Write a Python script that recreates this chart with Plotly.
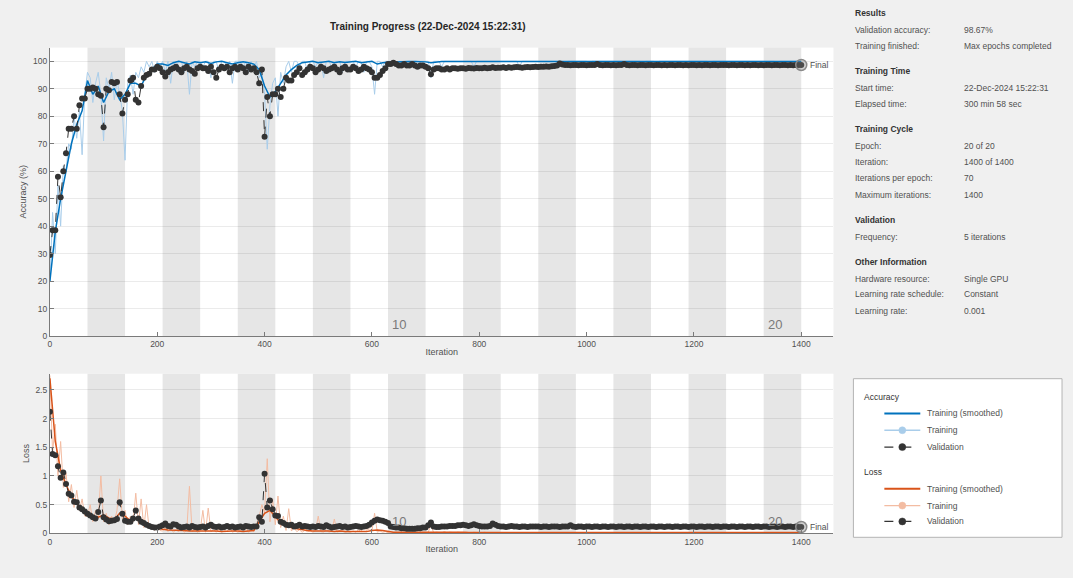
import plotly.graph_objects as go

W, H = 1073, 578


def px(x):
    return x / W


def py(y):
    return 1 - y / H


FONT = "Liberation Sans, Arial, sans-serif"

ITER_PER_EPOCH = 70
N_EPOCHS = 20
MAX_ITER = 1400

# iteration positions
val_iter = list(range(0, MAX_ITER + 1, 5))
raw_iter = list(range(0, MAX_ITER + 1, 5))
smooth_iter = list(range(0, MAX_ITER + 1, 10))

# ---------------- Accuracy (%) ----------------
val_acc = [
    29.5, 38.5, 38.5, 58, 50.5, 60, 66.5, 75.5, 75.5, 80, 75.5, 84, 86.5, 86.5,
    90, 90, 90.5, 90, 88, 87.5, 76, 90, 89.5, 92.5, 92, 92.5, 88, 81,
    86, 88, 93, 94, 86, 85, 91, 94, 95, 95.5, 97, 97, 98, 97.5,
    96, 94.5, 96, 97, 97.5, 98, 97, 96, 97.5, 98, 97, 96.5, 95.5, 97.5,
    98, 97.5, 97.5, 96.5, 98, 96, 94, 97, 98, 97.5, 98, 96, 97.5, 98,
    97, 98, 97.5, 96, 98, 97, 97.5, 96, 92, 97, 72.5, 87, 80, 88,
    88, 90, 87, 90, 94, 93, 93, 95, 96, 97.5, 95, 96, 97, 98,
    97.5, 96, 97, 98, 97.5, 96.5, 97, 97.5, 98, 97, 96, 97.5, 98, 97,
    97, 98, 97.5, 96.5, 97, 98, 97.5, 97, 96, 94, 94, 95, 96.5, 97.5,
    99, 99, 99.5, 99, 98.5, 98.5, 99, 98.5, 98.5, 99, 98.5, 98, 98.5, 98.5,
    98, 97.5, 95.3, 97, 97.5, 97.5, 97, 97, 97.5, 97, 97.5, 97.5, 97.3, 97.5,
    97.5, 97.3, 97.6, 97.5, 97.4, 97.6, 97.5, 97.5, 97.7, 97.5, 97.6, 97.8, 97.6, 97.7,
    97.7, 97.8, 97.6, 97.8, 97.7, 97.8, 97.9, 97.8, 97.7, 97.8, 97.9, 97.8, 97.9, 98,
    97.9, 98, 98, 98.1, 98, 98.2, 98.3, 98.5, 99.2, 98.8, 98.7, 98.7, 98.6, 98.7,
    98.7, 98.6, 98.7, 98.7, 98.6, 98.7, 98.7, 98.7, 99.0, 98.7, 98.6, 98.7, 98.7, 98.6,
    98.7, 98.6, 98.7, 98.7, 99.0, 98.7, 98.6, 98.7, 98.7, 98.6, 98.7, 98.7, 98.6, 98.7,
    98.7, 98.6, 98.7, 98.7, 98.6, 98.7, 98.6, 98.7, 98.7, 98.6, 98.7, 98.7, 98.6, 98.7,
    98.6, 98.7, 98.7, 98.6, 98.7, 98.6, 98.7, 98.7, 98.6, 98.7, 98.7, 98.6, 98.7, 98.7,
    98.7, 98.6, 98.7, 98.7, 98.6, 98.7, 98.7, 98.6, 98.7, 98.6, 98.7, 98.7, 98.6, 98.7,
    98.6, 98.7, 98.7, 98.6, 98.7, 98.7, 98.6, 98.7, 98.7, 98.6, 98.7, 98.6, 98.7, 98.7,
    98.67,
]

raw_acc = [
    20, 45, 30, 55, 40, 62, 60, 70, 68, 80, 72, 82, 66, 88,
    96, 94, 85, 92, 96, 88, 71, 94, 90, 96, 86, 93, 88, 82,
    64, 92, 95, 88, 96, 94, 98, 96, 100, 98, 100, 96, 100, 98,
    100, 96, 100, 92, 100, 98, 100, 100, 96, 100, 88, 100, 98, 100,
    100, 98, 100, 100, 94, 100, 100, 96, 100, 100, 98, 100, 92, 100,
    100, 100, 98, 100, 96, 100, 98, 100, 94, 96, 88, 68, 84, 92,
    94, 80, 96, 92, 98, 100, 96, 100, 100, 98, 100, 100, 96, 100,
    100, 98, 100, 100, 94, 100, 100, 98, 100, 100, 100, 96, 100, 100,
    100, 100, 98, 100, 100, 96, 100, 100, 98, 88, 100, 100, 98, 100,
    100, 100, 100, 98, 100, 100, 100, 100, 100, 98, 100, 100, 100, 100,
    100, 100, 94, 100, 100, 100, 98, 100, 100, 100, 100, 100, 100, 100,
    100, 100, 100, 100, 98, 100, 100, 100, 100, 100, 100, 100, 100, 100,
    100, 100, 100, 100, 100, 100, 100, 98, 100, 100, 100, 100, 100, 100,
    100, 100, 100, 100, 100, 100, 100, 100, 100, 100, 98, 100, 100, 100,
    100, 100, 100, 100, 100, 98, 100, 100, 100, 100, 100, 100, 100, 100,
    100, 100, 100, 100, 100, 100, 100, 100, 100, 100, 100, 98, 100, 100,
    100, 100, 98, 100, 100, 100, 100, 100, 100, 100, 100, 100, 100, 100,
    100, 100, 100, 100, 100, 100, 100, 100, 98, 100, 100, 100, 100, 100,
    100, 100, 100, 100, 100, 100, 100, 100, 100, 100, 100, 100, 100, 100,
    100, 100, 100, 100, 100, 98, 100, 100, 100, 100, 100, 100, 100, 100,
    100,
]

smooth_acc = [
    20, 38, 50, 60, 70, 77, 82,
    93, 88, 91, 85, 89, 90, 86,
    88, 92, 92, 91, 95, 97, 99,
    99, 98.5, 99.5, 100, 99.5, 99, 99.8,
    99.5, 99.8, 99.2, 99.8, 100, 99.5, 99,
    99.5, 99.8, 99.5, 99, 97, 91, 87,
    89, 92, 95, 97, 98.5, 99.5, 99.8,
    100, 99.5, 99.8, 100, 99.5, 99.8, 99.6,
    99.8, 100, 99.5, 99.8, 100, 99, 99.5,
    99.7, 99.8, 99.9, 99.9, 99.9, 99.9, 99.9,
    99.8, 99.5, 99.8, 99.9, 99.9, 99.9, 99.9,
    99.9, 99.9, 99.9, 99.8, 99.9, 99.9, 99.9,
    99.9, 99.9, 99.9, 99.9, 99.9, 99.9, 99.9,
    99.9, 99.9, 99.9, 99.9, 99.9, 99.9, 99.9,
    99.9, 99.9, 99.9, 99.9, 99.9, 99.9, 99.9,
    99.9, 99.9, 99.9, 99.9, 99.9, 99.9, 99.9,
    99.9, 99.9, 99.9, 99.9, 99.9, 99.9, 99.9,
    99.9, 99.9, 99.9, 99.9, 99.9, 99.9, 99.9,
    99.9, 99.9, 99.9, 99.9, 99.9, 99.9, 99.9,
    99.9, 99.9, 99.9, 99.9, 99.9, 99.9, 99.9,
    99.9,
]

# ---------------- Loss ----------------
val_loss = [
    2.12, 1.38, 1.36, 1.17, 0.97, 1.06, 0.86, 0.69, 0.66, 0.55, 0.54, 0.45, 0.42, 0.38,
    0.34, 0.31, 0.28, 0.26, 0.37, 0.57, 0.28, 0.24, 0.21, 0.22, 0.23, 0.25, 0.54, 0.34,
    0.22, 0.2, 0.2, 0.26, 0.4, 0.26, 0.2, 0.18, 0.15, 0.13, 0.11, 0.1, 0.1, 0.12,
    0.14, 0.17, 0.13, 0.12, 0.16, 0.15, 0.12, 0.1, 0.11, 0.12, 0.1, 0.13, 0.11, 0.1,
    0.11, 0.12, 0.1, 0.13, 0.15, 0.12, 0.11, 0.12, 0.1, 0.11, 0.13, 0.11, 0.12, 0.1,
    0.11, 0.12, 0.1, 0.13, 0.12, 0.11, 0.12, 0.12, 0.28, 0.2, 1.04, 0.45, 0.57, 0.42,
    0.31, 0.3, 0.2, 0.18, 0.15, 0.14, 0.15, 0.12, 0.13, 0.15, 0.12, 0.13, 0.12, 0.11,
    0.12, 0.11, 0.13, 0.12, 0.11, 0.14, 0.12, 0.1, 0.11, 0.12, 0.13, 0.11, 0.12, 0.1,
    0.11, 0.12, 0.13, 0.12, 0.11, 0.12, 0.13, 0.15, 0.19, 0.22, 0.24, 0.23, 0.22, 0.2,
    0.18, 0.12, 0.11, 0.1, 0.1, 0.09, 0.09, 0.08, 0.08, 0.08, 0.08, 0.09, 0.09, 0.1,
    0.1, 0.14, 0.19, 0.12, 0.11, 0.11, 0.12, 0.12, 0.12, 0.13, 0.13, 0.13, 0.14, 0.14,
    0.15, 0.14, 0.13, 0.14, 0.16, 0.14, 0.13, 0.12, 0.12, 0.12, 0.13, 0.17, 0.15, 0.13,
    0.12, 0.12, 0.11, 0.12, 0.13, 0.12, 0.12, 0.11, 0.12, 0.12, 0.11, 0.12, 0.12, 0.12,
    0.12, 0.11, 0.12, 0.12, 0.11, 0.12, 0.12, 0.12, 0.11, 0.12, 0.12, 0.12, 0.14, 0.12,
    0.11, 0.12, 0.12, 0.11, 0.12, 0.12, 0.11, 0.12, 0.12, 0.11, 0.12, 0.12, 0.11, 0.12,
    0.12, 0.11, 0.12, 0.12, 0.11, 0.12, 0.12, 0.11, 0.12, 0.12, 0.11, 0.12, 0.12, 0.11,
    0.12, 0.12, 0.11, 0.12, 0.12, 0.11, 0.12, 0.12, 0.11, 0.12, 0.12, 0.11, 0.12, 0.12,
    0.11, 0.12, 0.12, 0.11, 0.12, 0.12, 0.11, 0.12, 0.12, 0.11, 0.12, 0.12, 0.11, 0.12,
    0.12, 0.11, 0.12, 0.12, 0.11, 0.12, 0.12, 0.11, 0.12, 0.12, 0.11, 0.12, 0.12, 0.11,
    0.12, 0.12, 0.11, 0.12, 0.12, 0.11, 0.12, 0.12, 0.11, 0.12, 0.12, 0.11, 0.12, 0.11,
    0.11,
]

raw_loss = [
    2.75, 1.4, 1.9, 1.0, 1.6, 0.8, 1.05, 0.55, 0.85, 0.45, 0.75, 0.4, 0.6, 0.3,
    0.3, 0.5, 0.2, 0.4, 0.25, 1.0, 0.2, 0.35, 0.15, 0.3, 0.2, 0.4, 0.95, 0.25,
    0.4, 0.15, 0.3, 0.2, 0.7, 0.15, 0.6, 0.1, 0.5, 0.08, 0.15, 0.05, 0.12, 0.05,
    0.04, 0.1, 0.03, 0.08, 0.02, 0.06, 0.03, 0.1, 0.02, 0.05, 0.82, 0.03, 0.06, 0.02,
    0.05, 0.4, 0.02, 0.44, 0.03, 0.06, 0.02, 0.08, 0.02, 0.05, 0.03, 0.1, 0.02, 0.04,
    0.02, 0.05, 0.03, 0.1, 0.02, 0.06, 0.03, 0.15, 0.3, 0.5, 0.35, 1.3, 0.2, 0.6,
    0.15, 0.65, 0.1, 0.3, 0.05, 0.43, 0.04, 0.1, 0.03, 0.06, 0.02, 0.05, 0.03, 0.04,
    0.02, 0.05, 0.3, 0.03, 0.02, 0.06, 0.02, 0.04, 0.25, 0.02, 0.03, 0.05, 0.02, 0.03,
    0.02, 0.04, 0.02, 0.06, 0.03, 0.15, 0.05, 0.08, 0.04, 0.35, 0.02, 0.04, 0.02, 0.03,
    0.01, 0.03, 0.01, 0.02, 0.01, 0.02, 0.01, 0.03, 0.01, 0.02, 0.01, 0.01, 0.02, 0.01,
    0.01, 0.02, 0.15, 0.01, 0.02, 0.01, 0.01, 0.03, 0.01, 0.02, 0.01, 0.01, 0.02, 0.01,
    0.01, 0.02, 0.01, 0.01, 0.02, 0.01, 0.01, 0.01, 0.02, 0.01, 0.01, 0.01, 0.02, 0.01,
    0.01, 0.01, 0.02, 0.01, 0.01, 0.01, 0.02, 0.01, 0.01, 0.01, 0.01, 0.02, 0.01, 0.01,
    0.01, 0.02, 0.01, 0.01, 0.01, 0.02, 0.01, 0.01, 0.02, 0.01, 0.01, 0.01, 0.01, 0.02,
    0.01, 0.01, 0.01, 0.02, 0.01, 0.01, 0.01, 0.01, 0.02, 0.01, 0.01, 0.02, 0.01, 0.01,
    0.01, 0.02, 0.01, 0.01, 0.01, 0.01, 0.02, 0.01, 0.01, 0.01, 0.02, 0.01, 0.01, 0.01,
    0.01, 0.01, 0.02, 0.01, 0.01, 0.02, 0.01, 0.01, 0.01, 0.01, 0.01, 0.02, 0.01, 0.01,
    0.02, 0.01, 0.01, 0.01, 0.02, 0.01, 0.01, 0.01, 0.01, 0.02, 0.01, 0.01, 0.01, 0.01,
    0.01, 0.01, 0.01, 0.02, 0.01, 0.01, 0.01, 0.02, 0.01, 0.01, 0.01, 0.01, 0.02, 0.01,
    0.01, 0.02, 0.01, 0.01, 0.01, 0.01, 0.01, 0.02, 0.01, 0.01, 0.02, 0.01, 0.01, 0.01,
    0.01,
]

smooth_loss = [
    2.7, 1.6, 1.1, 0.85, 0.65, 0.52, 0.42,
    0.35, 0.3, 0.28, 0.32, 0.27, 0.24, 0.35,
    0.3, 0.22, 0.26, 0.2, 0.15, 0.12, 0.09,
    0.07, 0.06, 0.06, 0.05, 0.05, 0.04, 0.04,
    0.04, 0.04, 0.05, 0.04, 0.03, 0.04, 0.04,
    0.04, 0.03, 0.04, 0.05, 0.2, 0.35, 0.4,
    0.28, 0.18, 0.15, 0.1, 0.08, 0.06, 0.05,
    0.04, 0.04, 0.05, 0.04, 0.03, 0.04, 0.03,
    0.03, 0.03, 0.04, 0.03, 0.05, 0.06, 0.05,
    0.03, 0.02, 0.02, 0.02, 0.02, 0.02, 0.02,
    0.02, 0.03, 0.02, 0.02, 0.02, 0.02, 0.02,
    0.02, 0.015, 0.015, 0.015, 0.015, 0.015, 0.015,
    0.015, 0.015, 0.015, 0.015, 0.015, 0.015, 0.015,
    0.015, 0.015, 0.015, 0.015, 0.015, 0.015, 0.015,
    0.015, 0.015, 0.015, 0.015, 0.015, 0.015, 0.015,
    0.015, 0.015, 0.015, 0.015, 0.015, 0.015, 0.015,
    0.015, 0.015, 0.015, 0.015, 0.015, 0.015, 0.015,
    0.015, 0.015, 0.015, 0.015, 0.015, 0.015, 0.015,
    0.015, 0.015, 0.015, 0.015, 0.015, 0.015, 0.015,
    0.015, 0.015, 0.015, 0.015, 0.015, 0.015, 0.015,
    0.015,
]

assert len(val_acc) == len(val_iter), len(val_acc)
assert len(raw_acc) == len(raw_iter), len(raw_acc)
assert len(smooth_acc) == len(smooth_iter), len(smooth_acc)
assert len(val_loss) == len(val_iter), len(val_loss)
assert len(raw_loss) == len(raw_iter), len(raw_loss)
assert len(smooth_loss) == len(smooth_iter), len(smooth_loss)

x_ticks = [0, 200, 400, 600, 800, 1000, 1200, 1400]
acc_ticks = [0, 10, 20, 30, 40, 50, 60, 70, 80, 90, 100]
loss_ticks = [0, 0.5, 1, 1.5, 2, 2.5]
loss_ticktext = ["0", "0.5", "1", "1.5", "2", "2.5"]

info_rows = [
    ("Results", None, 13, True),
    ("Validation accuracy:", "98.67%", 30, False),
    ("Training finished:", "Max epochs completed", 46, False),
    ("Training Time", None, 72, True),
    ("Start time:", "22-Dec-2024 15:22:31", 89, False),
    ("Elapsed time:", "300 min 58 sec", 105, False),
    ("Training Cycle", None, 130, True),
    ("Epoch:", "20 of 20", 147, False),
    ("Iteration:", "1400 of 1400", 163, False),
    ("Iterations per epoch:", "70", 180, False),
    ("Maximum iterations:", "1400", 197, False),
    ("Validation", None, 222, True),
    ("Frequency:", "5 iterations", 239, False),
    ("Other Information", None, 264, True),
    ("Hardware resource:", "Single GPU", 281, False),
    ("Learning rate schedule:", "Constant", 297, False),
    ("Learning rate:", "0.001", 314, False),
]

# colours
C_ACC = "#0072BD"
C_ACC_RAW = "#A9CDEA"
C_LOSS = "#D95319"
C_LOSS_RAW = "#F3BCA2"
C_VAL = "#333333"
TXT = "#505050"

fig = go.Figure()

# ---- accuracy plot ----
fig.add_trace(go.Scatter(x=raw_iter, y=raw_acc, mode="lines",
                         line=dict(color=C_ACC_RAW, width=1), showlegend=False,
                         xaxis="x", yaxis="y"))
fig.add_trace(go.Scatter(x=smooth_iter, y=smooth_acc, mode="lines",
                         line=dict(color=C_ACC, width=1.5), showlegend=False,
                         xaxis="x", yaxis="y"))
fig.add_trace(go.Scatter(x=val_iter, y=val_acc, mode="lines+markers",
                         line=dict(color=C_VAL, width=1, dash="dash"),
                         marker=dict(color=C_VAL, size=6), showlegend=False,
                         xaxis="x", yaxis="y"))
fig.add_trace(go.Scatter(x=[val_iter[-1]], y=[val_acc[-1]], mode="markers",
                         marker=dict(color="rgba(120,120,120,0.35)", size=11,
                                     line=dict(color="#8a8a8a", width=1.5)),
                         showlegend=False, xaxis="x", yaxis="y"))

# ---- loss plot ----
fig.add_trace(go.Scatter(x=raw_iter, y=raw_loss, mode="lines",
                         line=dict(color=C_LOSS_RAW, width=1), showlegend=False,
                         xaxis="x2", yaxis="y2"))
fig.add_trace(go.Scatter(x=smooth_iter, y=smooth_loss, mode="lines",
                         line=dict(color=C_LOSS, width=1.5), showlegend=False,
                         xaxis="x2", yaxis="y2"))
fig.add_trace(go.Scatter(x=val_iter, y=val_loss, mode="lines+markers",
                         line=dict(color=C_VAL, width=1, dash="dash"),
                         marker=dict(color=C_VAL, size=6), showlegend=False,
                         xaxis="x2", yaxis="y2"))
fig.add_trace(go.Scatter(x=[val_iter[-1]], y=[val_loss[-1]], mode="markers",
                         marker=dict(color="rgba(120,120,120,0.35)", size=11,
                                     line=dict(color="#8a8a8a", width=1.5)),
                         showlegend=False, xaxis="x2", yaxis="y2"))

# ---- epoch bands ----
shapes = []
for ep in range(2, N_EPOCHS + 1, 2):
    x0 = (ep - 1) * ITER_PER_EPOCH
    x1 = ep * ITER_PER_EPOCH
    for xr, yr in (("x", "y domain"), ("x2", "y2 domain")):
        shapes.append(dict(type="rect", xref=xr, yref=yr, x0=x0, x1=x1, y0=0, y1=1,
                           fillcolor="#E6E6E6", line=dict(width=0), layer="below"))

# ---- legend panel (drawn as a key box) ----
shapes.append(dict(type="rect", xref="paper", yref="paper",
                   x0=px(853), x1=px(1062), y0=py(542), y1=py(382),
                   fillcolor="white", line=dict(color="#B4B4B4", width=1), layer="below"))

legend_rows = [
    ("Accuracy", None, None, None, 400),
    ("Training (smoothed)", C_ACC, "solid", None, 417),
    ("Training", C_ACC_RAW, "solid", C_ACC_RAW, 434),
    ("Validation", C_VAL, "dash", C_VAL, 451),
    ("Loss", None, None, None, 476),
    ("Training (smoothed)", C_LOSS, "solid", None, 493),
    ("Training", C_LOSS_RAW, "solid", C_LOSS_RAW, 510),
    ("Validation", C_VAL, "dash", C_VAL, 526),
]

annotations = []
for text, col, dash, mcol, ypix in legend_rows:
    if col is None:
        annotations.append(dict(text=text, x=px(862), y=py(ypix), xref="paper", yref="paper",
                                xanchor="left", yanchor="middle", showarrow=False,
                                font=dict(size=8.5, color="#333333", family=FONT)))
        continue
    shapes.append(dict(type="line", xref="paper", yref="paper",
                       x0=px(884), x1=px(920), y0=py(ypix), y1=py(ypix),
                       line=dict(color=col, width=2 if dash == "solid" and mcol is None else 1.3,
                                 dash=dash), layer="above"))
    if mcol:
        shapes.append(dict(type="circle", xref="paper", yref="paper",
                           xsizemode="pixel", ysizemode="pixel",
                           xanchor=px(902), yanchor=py(ypix),
                           x0=-3.5, x1=3.5, y0=-3.5, y1=3.5,
                           fillcolor=mcol, line=dict(color=mcol, width=0.5), layer="above"))
    annotations.append(dict(text=text, x=px(925), y=py(ypix), xref="paper", yref="paper",
                            xanchor="left", yanchor="middle", showarrow=False,
                            font=dict(size=8.5, color=TXT, family=FONT)))

# title
annotations.append(dict(text="<b>Training Progress (22-Dec-2024 15:22:31)</b>",
                        x=px(427), y=py(19), xref="paper", yref="paper",
                        showarrow=False, font=dict(size=10, color="#262626", family=FONT)))
# epoch labels
for ep in (10, 20):
    for xr, yr in (("x", "y domain"), ("x2", "y2 domain")):
        annotations.append(dict(text=str(ep), x=(ep - 1) * ITER_PER_EPOCH, y=0,
                                xref=xr, yref=yr, xanchor="left", yanchor="bottom",
                                xshift=2, yshift=2, showarrow=False,
                                font=dict(size=13, color="#7a7a7a", family=FONT)))
# Final labels
annotations.append(dict(text="Final", x=val_iter[-1], y=val_acc[-1], xref="x", yref="y",
                        xanchor="left", xshift=7, showarrow=False,
                        font=dict(size=8.5, color=TXT, family=FONT)))
annotations.append(dict(text="Final", x=val_iter[-1], y=val_loss[-1], xref="x2", yref="y2",
                        xanchor="left", xshift=7, showarrow=False,
                        font=dict(size=8.5, color=TXT, family=FONT)))
# info panel
for label, value, ypix, header in info_rows:
    if header:
        annotations.append(dict(text=f"<b>{label}</b>", x=px(853), y=py(ypix),
                                xref="paper", yref="paper", xanchor="left", yanchor="middle",
                                showarrow=False, font=dict(size=8.5, color="#333333", family=FONT)))
    else:
        annotations.append(dict(text=label, x=px(853), y=py(ypix),
                                xref="paper", yref="paper", xanchor="left", yanchor="middle",
                                showarrow=False, font=dict(size=8.5, color=TXT, family=FONT)))
        annotations.append(dict(text=value, x=px(962), y=py(ypix),
                                xref="paper", yref="paper", xanchor="left", yanchor="middle",
                                showarrow=False, font=dict(size=8.5, color=TXT, family=FONT)))

axis_common = dict(showline=True, linecolor="#7a7a7a", linewidth=1, ticks="inside",
                   ticklen=4, tickcolor="#7a7a7a", zeroline=False,
                   tickfont=dict(size=8.5, color=TXT, family=FONT))

XD = [px(48), px(833)]
fig.update_layout(
    width=W, height=H,
    margin=dict(l=0, r=0, t=0, b=0),
    paper_bgcolor="#F0F0F0", plot_bgcolor="white",
    font=dict(family=FONT, size=9, color=TXT),
    xaxis=dict(domain=XD, anchor="y", range=[0, 1460], tickvals=x_ticks,
               showgrid=False,
               title=dict(text="Iteration", standoff=0, font=dict(size=9, color=TXT)),
               **axis_common),
    yaxis=dict(domain=[py(339), py(48)], anchor="x", range=[0, 105], tickvals=acc_ticks,
               showgrid=True, gridcolor="rgba(0,0,0,0.08)", gridwidth=1,
               title=dict(text="Accuracy (%)", standoff=4, font=dict(size=9, color=TXT)),
               **axis_common),
    xaxis2=dict(domain=XD, anchor="y2", range=[0, 1460], tickvals=x_ticks,
                showgrid=False,
                title=dict(text="Iteration", standoff=0, font=dict(size=9, color=TXT)),
                **axis_common),
    yaxis2=dict(domain=[py(538), py(377)], anchor="x2", range=[0, 2.78], tickvals=loss_ticks,
                ticktext=loss_ticktext,
                showgrid=True, gridcolor="rgba(0,0,0,0.08)", gridwidth=1,
                title=dict(text="Loss", standoff=4, font=dict(size=9, color=TXT)),
                **axis_common),
    shapes=shapes,
    annotations=annotations,
    showlegend=False,
)

fig.write_html("out.html",
               config={"displayModeBar": False},
               post_script="document.body.style.margin='0';document.body.style.overflow='hidden';")
